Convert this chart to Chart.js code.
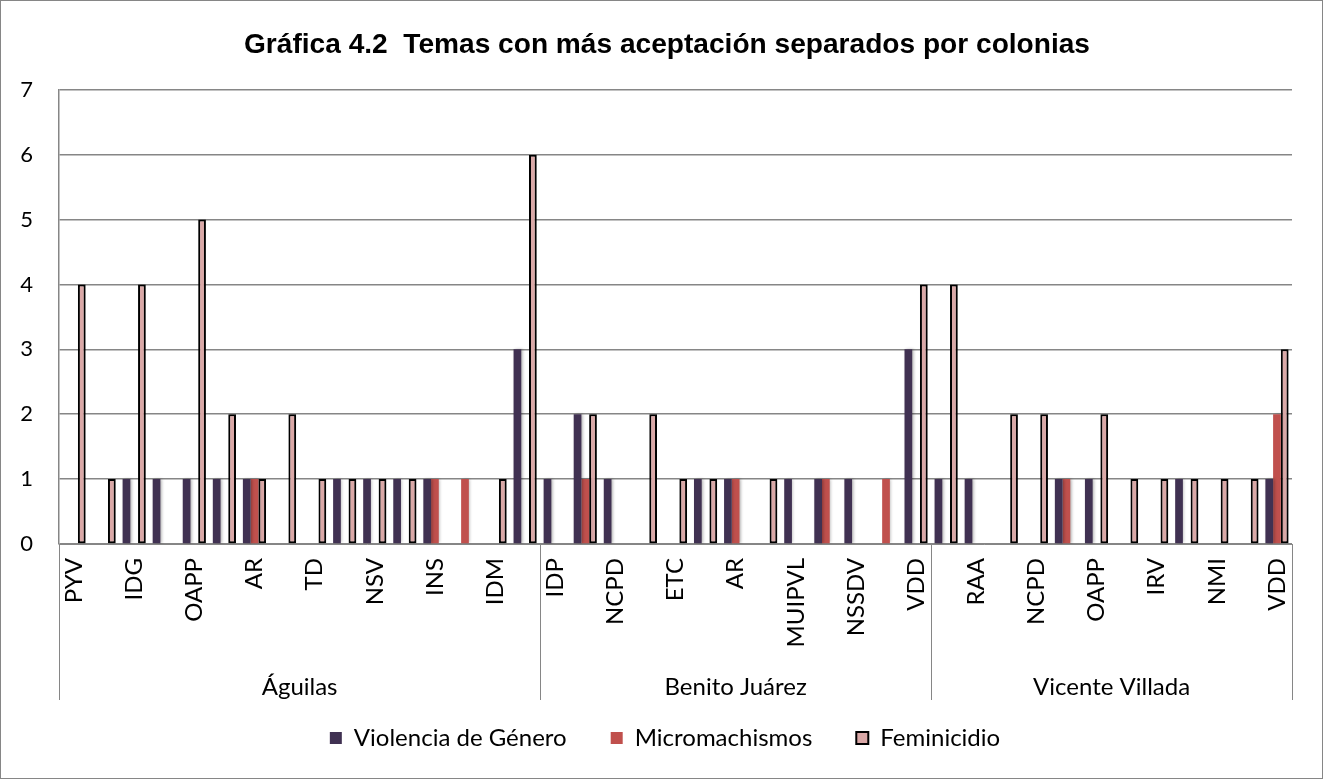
<!DOCTYPE html>
<html lang="es">
<head>
    <meta charset="UTF-8">
    <title>Gráfica 4.2</title>
    <style>
        html, body { margin: 0; padding: 0; background: #fff; }
        .chart-box { width: 1323px; height: 779px; position: relative; }
    </style>
</head>
<body>
    <div class="chart-box">
        <canvas id="temasChart"></canvas>
    </div>

    <script src="https://cdn.jsdelivr.net/npm/chart.js"></script>
    <script>
        // Etiquetas de categoría (sólo se ven una de cada dos en el original)
        const categorias = [
            'PYV', '', 'IDG', '', 'OAPP', '', 'AR', '', 'TD', '', 'NSV', '', 'INS', '', 'IDM', '',
            'IDP', '', 'NCPD', '', 'ETC', '', 'AR', '', 'MUIPVL', '', 'NSSDV', '', 'VDD',
            '', 'RAA', '', 'NCPD', '', 'OAPP', '', 'IRV', '', 'NMI', '', 'VDD'
        ];

        // Colonias y número de temas en cada una
        const colonias = ['Águilas', 'Benito Juárez', 'Vicente Villada'];
        const temasPorColonia = [16, 13, 12];

        // Series
        const violencia = [
            0, 0, 1, 1, 1, 1, 1, 0, 0, 1, 1, 1, 1, 0, 0, 3,
            1, 2, 1, 0, 0, 1, 1, 0, 1, 1, 1, 0, 3,
            1, 1, 0, 0, 1, 1, 0, 0, 1, 0, 0, 1
        ];
        const micromachismos = [
            0, 0, 0, 0, 0, 0, 1, 0, 0, 0, 0, 0, 1, 1, 0, 0,
            0, 1, 0, 0, 0, 0, 1, 0, 0, 1, 0, 1, 0,
            0, 0, 0, 0, 1, 0, 0, 0, 0, 0, 0, 2
        ];
        const feminicidio = [
            4, 1, 4, 0, 5, 2, 1, 2, 1, 1, 1, 1, 0, 0, 1, 6,
            0, 2, 0, 2, 1, 1, 0, 1, 0, 0, 0, 0, 4,
            4, 0, 2, 2, 0, 2, 1, 1, 1, 1, 1, 3
        ];

        const yTicks = [0, 1, 2, 3, 4, 5, 6, 7];
        const titulo = 'Gráfica 4.2  Temas con más aceptación separados por colonias';

        const fuente = 'Lato, "Open Sans", sans-serif';
        const gris = '#868686';

        // Marco, título, separadores y nombres de colonias
        const coloniasPlugin = {
            id: 'colonias',
            afterLayout(chart) {
                // centrar la leyenda como en el original
                const lg = chart.legend;
                const dx = 665 - (lg.left + lg.right) / 2;
                lg.left += dx;
                lg.right += dx;
            },
            beforeDatasetsDraw(chart) {
                const ctx = chart.ctx;
                ctx.save();
                ctx.shadowColor = 'rgba(0,0,0,0.28)';
                ctx.shadowBlur = 3;
                ctx.shadowOffsetX = 1.5;
            },
            afterDatasetsDraw(chart) {
                chart.ctx.restore();
            },
            afterDraw(chart) {
                const ctx = chart.ctx;
                const x = chart.scales.x;
                const area = chart.chartArea;
                const paso = x.getPixelForValue(1) - x.getPixelForValue(0);
                ctx.save();
                ctx.strokeStyle = gris;
                ctx.lineWidth = 1;
                ctx.strokeRect(0.5, 0.5, chart.width - 1, chart.height - 1);

                // título
                ctx.save();
                ctx.font = 'bold 28px "Liberation Sans", Arial, sans-serif';
                const w = ctx.measureText(titulo).width;
                ctx.translate(667, 45);
                ctx.scale(846 / w, 1);
                ctx.fillStyle = '#000';
                ctx.textAlign = 'center';
                ctx.textBaseline = 'middle';
                ctx.fillText(titulo, 0, 0);
                ctx.restore();

                let inicio = 0;
                const bordes = [area.left];
                colonias.forEach((nombre, i) => {
                    const fin = inicio + temasPorColonia[i];
                    const xa = x.getPixelForValue(inicio) - paso / 2;
                    const xb = x.getPixelForValue(fin - 1) + paso / 2;
                    bordes.push(xb);
                    ctx.fillStyle = '#000';
                    ctx.font = '24px ' + fuente;
                    ctx.textAlign = 'center';
                    ctx.textBaseline = 'middle';
                    ctx.fillText(nombre, (xa + xb) / 2, 687);
                    inicio = fin;
                });
                bordes.forEach(b => {
                    const px = Math.round(b) + 0.5;
                    ctx.beginPath();
                    ctx.moveTo(px, area.bottom);
                    ctx.lineTo(px, 700);
                    ctx.stroke();
                });
                ctx.restore();
            }
        };

        const ctx = document.getElementById('temasChart').getContext('2d');
        new Chart(ctx, {
            type: 'bar',
            data: {
                labels: categorias,
                datasets: [
                    {
                        label: 'Violencia de Género',
                        data: violencia,
                        backgroundColor: '#403152',
                        borderWidth: 0
                    },
                    {
                        label: 'Micromachismos',
                        data: micromachismos,
                        backgroundColor: '#c0504d',
                        borderWidth: 0
                    },
                    {
                        label: 'Feminicidio',
                        data: feminicidio,
                        backgroundColor: '#daa8a7',
                        borderColor: '#000',
                        borderWidth: 2,
                        borderSkipped: false
                    }
                ]
            },
            options: {
                responsive: true,
                maintainAspectRatio: false,
                animation: false,
                categoryPercentage: 0.77,
                barPercentage: 1.0,
                layout: { padding: { left: 0, right: 31, top: 0, bottom: 19 } },
                scales: {
                    x: {
                        grid: { display: false, drawTicks: false },
                        border: { display: true, color: gris, width: 1 },
                        ticks: {
                            autoSkip: false,
                            maxRotation: 90,
                            minRotation: 90,
                            padding: 14,
                            color: '#000',
                            font: { family: fuente, size: 24 }
                        },
                        afterFit(scale) { scale.height = 138; }
                    },
                    y: {
                        min: 0,
                        max: 7,
                        afterBuildTicks(scale) { scale.ticks = yTicks.map(v => ({ value: v })); },
                        grid: { color: gris, lineWidth: 1.5, drawTicks: false },
                        border: { display: true, color: gris, width: 1.5 },
                        ticks: {
                            padding: 26,
                            color: '#000',
                            font: { family: fuente, size: 22 }
                        },
                        afterFit(scale) { scale.width = 59; }
                    }
                },
                plugins: {
                    title: {
                        display: true,
                        text: titulo,
                        color: 'rgba(0,0,0,0)',
                        font: { family: '"Liberation Sans", Arial, sans-serif', size: 24, weight: 'bold' },
                        padding: { top: 30, bottom: 31 }
                    },
                    legend: {
                        position: 'bottom',
                        labels: {
                            color: '#000',
                            boxWidth: 12,
                            boxHeight: 12,
                            padding: 44,
                            font: { family: fuente, size: 24 }
                        }
                    },
                    tooltip: { enabled: false }
                }
            },
            plugins: [coloniasPlugin]
        });
    </script>
</body>
</html>
